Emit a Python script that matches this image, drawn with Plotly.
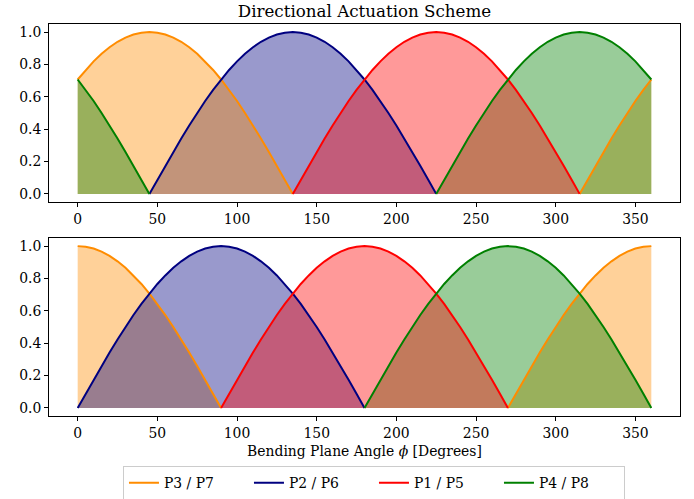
import plotly.graph_objects as go
from plotly.subplots import make_subplots

# Bending plane angle (degrees)
phi = [0, 5, 10, 15, 20, 25, 30, 35, 40, 45, 50, 55, 60, 65, 70, 75, 80, 85, 90,
       95, 100, 105, 110, 115, 120, 125, 130, 135, 140, 145, 150, 155, 160, 165, 170, 175, 180,
       185, 190, 195, 200, 205, 210, 215, 220, 225, 230, 235, 240, 245, 250, 255, 260, 265, 270,
       275, 280, 285, 290, 295, 300, 305, 310, 315, 320, 325, 330, 335, 340, 345, 350, 355, 360]

N = None
# one actuation lobe (rise from 0 to 1 and back to 0)
lobe = [0.0, 0.087, 0.174, 0.259, 0.342, 0.423, 0.5, 0.574, 0.643, 0.707, 0.766, 0.819, 0.866,
        0.906, 0.94, 0.966, 0.985, 0.996, 1.0, 0.996, 0.985, 0.966, 0.94, 0.906, 0.866, 0.819,
        0.766, 0.707, 0.643, 0.574, 0.5, 0.423, 0.342, 0.259, 0.174, 0.087, 0.0]

# Top panel
top_p3 = [0.707, 0.766, 0.819, 0.866, 0.906, 0.94, 0.966, 0.985, 0.996, 1.0, 0.996, 0.985, 0.966,
          0.94, 0.906, 0.866, 0.819, 0.766, 0.707, 0.643, 0.574, 0.5, 0.423, 0.342, 0.259, 0.174,
          0.087, 0.0] + [N] * 35 + [0.0, 0.087, 0.174, 0.259, 0.342, 0.423, 0.5, 0.574, 0.643, 0.707]
top_p2 = [N] * 9 + lobe + [N] * 27
top_p1 = [N] * 27 + lobe + [N] * 9
top_p4 = [0.707, 0.643, 0.574, 0.5, 0.423, 0.342, 0.259, 0.174, 0.087, 0.0] + [N] * 35 + \
         [0.0, 0.087, 0.174, 0.259, 0.342, 0.423, 0.5, 0.574, 0.643, 0.707, 0.766, 0.819, 0.866,
          0.906, 0.94, 0.966, 0.985, 0.996, 1.0, 0.996, 0.985, 0.966, 0.94, 0.906, 0.866, 0.819,
          0.766, 0.707]

# Bottom panel
bot_p3 = [1.0, 0.996, 0.985, 0.966, 0.94, 0.906, 0.866, 0.819, 0.766, 0.707, 0.643, 0.574, 0.5,
          0.423, 0.342, 0.259, 0.174, 0.087, 0.0] + [N] * 35 + \
         [0.0, 0.087, 0.174, 0.259, 0.342, 0.423, 0.5, 0.574, 0.643, 0.707, 0.766, 0.819, 0.866,
          0.906, 0.94, 0.966, 0.985, 0.996, 1.0]
bot_p2 = lobe + [N] * 36
bot_p1 = [N] * 18 + lobe + [N] * 18
bot_p4 = [N] * 36 + lobe

names = ["P3 / P7", "P2 / P6", "P1 / P5", "P4 / P8"]
line_colors = ["#ff8c00", "#000080", "#ff0000", "#008000"]
fill_colors = ["rgba(255,140,0,0.4)", "rgba(0,0,128,0.4)", "rgba(255,0,0,0.4)", "rgba(0,128,0,0.4)"]

panels = [[top_p3, top_p2, top_p1, top_p4], [bot_p3, bot_p2, bot_p1, bot_p4]]
fill_order = [[1, 0, 3, 2], [0, 1, 3, 2]]

fig = make_subplots(rows=2, cols=1)

for r, series in enumerate(panels, start=1):
    for i in fill_order[r - 1]:
        s = series[i]
        fig.add_trace(go.Scatter(x=phi, y=[0 if v is None else v for v in s], mode="lines",
                                 line=dict(width=0, color=line_colors[i]), fill="tozeroy",
                                 fillcolor=fill_colors[i], showlegend=False, hoverinfo="skip"),
                      row=r, col=1)
    for i, s in enumerate(series):
        fig.add_trace(go.Scatter(x=phi, y=s, mode="lines", name=names[i],
                                 line=dict(width=2, color=line_colors[i]),
                                 showlegend=(r == 1), connectgaps=False),
                      row=r, col=1)

font = "DejaVu Serif"
fs = 13.9
axis_common = dict(showline=True, linecolor="black", linewidth=1, mirror=True,
                   ticks="outside", ticklen=4, tickcolor="black", showgrid=False, zeroline=False,
                   automargin=False,
                   tickfont=dict(family=font, size=fs, color="black"))

fig.update_xaxes(range=[-18, 378], tickvals=[0, 50, 100, 150, 200, 250, 300, 350], **axis_common)
fig.update_yaxes(range=[-0.05, 1.05], tickvals=[0, 0.2, 0.4, 0.6, 0.8, 1.0], tickformat=".1f",
                 **axis_common)

fig.update_layout(
    width=694, height=499,
    margin=dict(l=49, r=14, t=24, b=83, autoexpand=False),
    paper_bgcolor="white", plot_bgcolor="white",
    xaxis=dict(domain=[0, 1], anchor="y"),
    yaxis=dict(domain=[0.546, 1.0]),
    xaxis2=dict(domain=[0, 1], anchor="y2",
                title=dict(text="Bending Plane Angle <i>ϕ</i> [Degrees]", standoff=6,
                           font=dict(family=font, size=fs, color="black"))),
    yaxis2=dict(domain=[0.0, 0.454]),
    title=dict(text="Directional Actuation Scheme", x=0.5, xref="paper", y=0.978,
               yref="container", yanchor="middle", xanchor="center",
               font=dict(family=font, size=16.7, color="black")),
    legend=dict(orientation="h", x=0.515, xanchor="center", xref="paper", y=-0.128,
                yanchor="top", bordercolor="#cccccc", borderwidth=1,
                font=dict(family=font, size=fs, color="black"),
                entrywidth=80, entrywidthmode="pixels"),
    font=dict(family=font),
)

fig.write_html("out.html", post_script="document.body.style.margin='0';",
               config={"displayModeBar": False})
